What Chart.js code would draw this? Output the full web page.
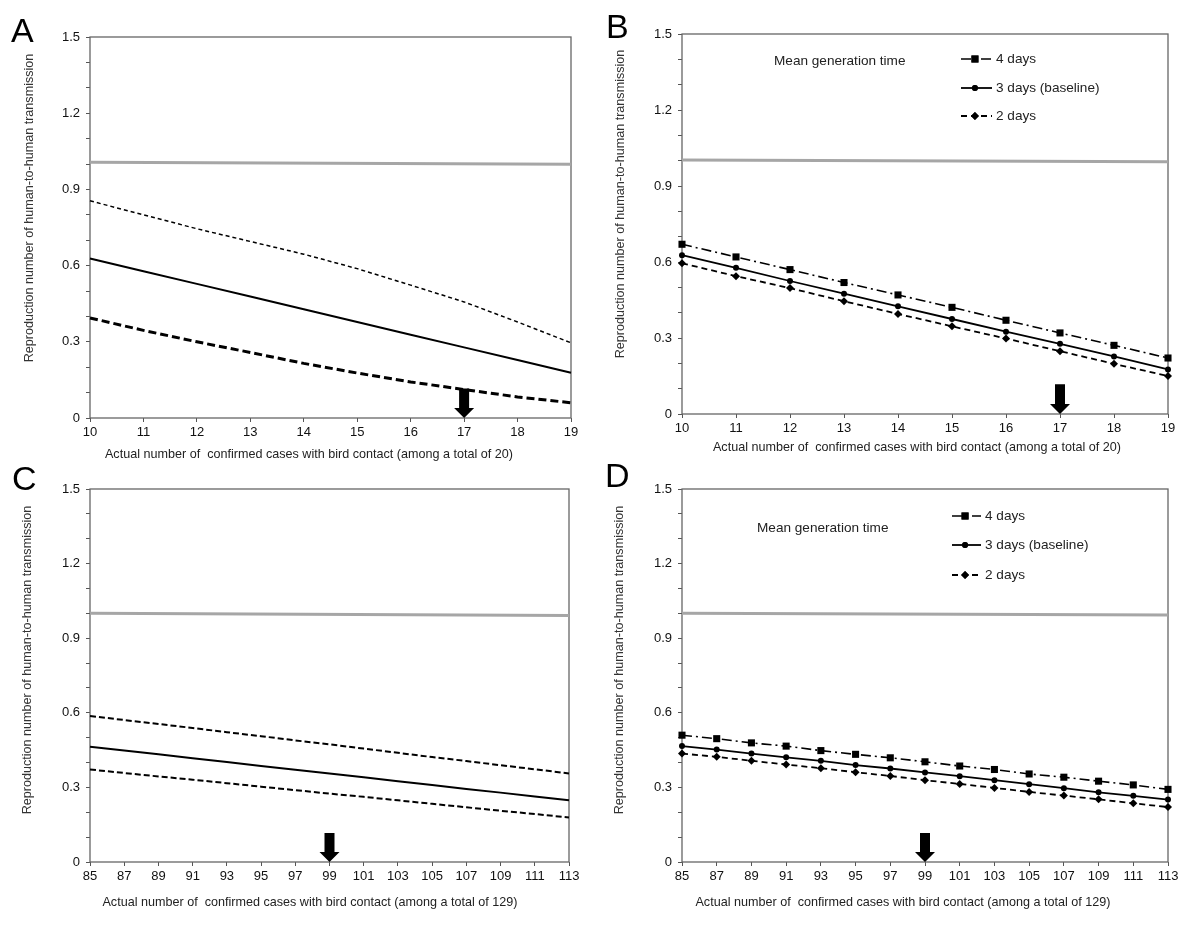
<!DOCTYPE html>
<html>
<head>
<meta charset="utf-8">
<script src="https://cdn.jsdelivr.net/npm/chart.js@4.4.1/dist/chart.umd.min.js"></script>
<style>
    body { margin: 0; background: #fff; }
    .panel { position: absolute; width: 600px; height: 463px; }
</style>
</head>
<body>
<div class="panel" style="left:0;top:0"><canvas id="chartA" width="600" height="463"></canvas></div>
<div class="panel" style="left:600px;top:0"><canvas id="chartB" width="600" height="463"></canvas></div>
<div class="panel" style="left:0;top:463px"><canvas id="chartC" width="600" height="463"></canvas></div>
<div class="panel" style="left:600px;top:463px"><canvas id="chartD" width="600" height="463"></canvas></div>
<script>
// x values (actual number of confirmed cases with bird contact)
var casesAB = [10, 11, 12, 13, 14, 15, 16, 17, 18, 19];
var casesCD = [85, 87, 89, 91, 93, 95, 97, 99, 101, 103, 105, 107, 109, 111, 113];

// A: estimate with upper / lower bounds
var aUpper = [0.855, 0.80, 0.745, 0.695, 0.645, 0.588, 0.523, 0.457, 0.378, 0.296];
var aMid   = [0.628, 0.578, 0.528, 0.478, 0.428, 0.378, 0.328, 0.278, 0.228, 0.178];
var aLower = [0.394, 0.345, 0.30, 0.258, 0.215, 0.177, 0.142, 0.112, 0.083, 0.06];

// B: mean generation time
var b4days = [0.670, 0.620, 0.570, 0.519, 0.470, 0.421, 0.370, 0.320, 0.271, 0.221];
var b3days = [0.627, 0.577, 0.525, 0.475, 0.425, 0.375, 0.325, 0.277, 0.227, 0.176];
var b2days = [0.595, 0.544, 0.497, 0.445, 0.395, 0.346, 0.298, 0.248, 0.198, 0.150];

// C: estimate with upper / lower bounds
var cUpper = [0.587, 0.571, 0.555, 0.539, 0.522, 0.506, 0.489, 0.473, 0.456, 0.439, 0.422, 0.406, 0.389, 0.373, 0.356];
var cMid   = [0.463, 0.448, 0.433, 0.417, 0.402, 0.386, 0.371, 0.356, 0.341, 0.325, 0.310, 0.294, 0.279, 0.263, 0.248];
var cLower = [0.372, 0.358, 0.344, 0.331, 0.317, 0.303, 0.289, 0.275, 0.262, 0.248, 0.234, 0.220, 0.206, 0.193, 0.179];

// D: mean generation time
var d4days = [0.510, 0.496, 0.479, 0.466, 0.448, 0.433, 0.419, 0.403, 0.386, 0.372, 0.354, 0.341, 0.325, 0.310, 0.292];
var d3days = [0.466, 0.452, 0.436, 0.421, 0.407, 0.390, 0.376, 0.360, 0.345, 0.329, 0.313, 0.297, 0.280, 0.266, 0.251];
var d2days = [0.436, 0.423, 0.407, 0.392, 0.377, 0.361, 0.346, 0.329, 0.314, 0.298, 0.282, 0.267, 0.252, 0.236, 0.221];

// grey reference line R = 1 (start, end)
var thresholdA = [1.007, 0.999];
var thresholdB = [1.003, 0.996];
var thresholdC = [1.000, 0.991];
var thresholdD = [1.000, 0.993];

// observed number marked by the arrow
var arrowX = [17, 17, 99, 99];
var arrowTop = [0.116, 0.117, 0.117, 0.117];

var legendLabels = ['4 days', '3 days (baseline)', '2 days'];
var yTitle = 'Reproduction number of human-to-human transmission';
var xTitleAB = 'Actual number of  confirmed cases with bird contact (among a total of 20)';
var xTitleCD = 'Actual number of  confirmed cases with bird contact (among a total of 129)';

var sans = '"Liberation Sans", Arial, sans-serif';

function pts(xs, ys) {
    return xs.map(function (x, i) { return { x: x, y: ys[i] }; });
}

function line(xs, ys, opt) {
    return {
        data: pts(xs, ys),
        borderColor: '#000',
        backgroundColor: '#000',
        borderWidth: opt.width || 2,
        borderDash: opt.dash || [],
        pointStyle: opt.point || 'circle',
        pointRadius: opt.radius || 0,
        pointBorderWidth: 0,
        tension: 0,
        clip: false,
        label: opt.label || ''
    };
}

var panelDecor = {
    id: 'panelDecor',
    beforeDatasetsDraw: function (chart) {
        var ctx = chart.ctx, a = chart.chartArea;
        ctx.save();
        ctx.strokeStyle = '#666';
        ctx.lineWidth = 1.3;
        ctx.strokeRect(a.left, a.top, a.right - a.left, a.bottom - a.top);
        ctx.restore();
    },
    afterDraw: function (chart, args, opts) {
        var ctx = chart.ctx;
        var xs = chart.scales.x, ys = chart.scales.y;
        ctx.save();

        // arrow
        var ax = xs.getPixelForValue(opts.arrowX);
        var top = ys.getPixelForValue(opts.arrowTop);
        var bot = ys.getPixelForValue(0);
        ctx.fillStyle = '#000';
        ctx.beginPath();
        ctx.moveTo(ax - 5, top);
        ctx.lineTo(ax + 5, top);
        ctx.lineTo(ax + 5, bot - 10);
        ctx.lineTo(ax + 10, bot - 10);
        ctx.lineTo(ax, bot);
        ctx.lineTo(ax - 10, bot - 10);
        ctx.lineTo(ax - 5, bot - 10);
        ctx.closePath();
        ctx.fill();

        // panel letter
        ctx.font = '34px ' + sans;
        ctx.textBaseline = 'alphabetic';
        ctx.textAlign = 'left';
        ctx.fillText(opts.letter, opts.letterX, opts.letterY);

        // axis titles
        ctx.textAlign = 'center';
        ctx.textBaseline = 'middle';
        ctx.fillStyle = '#222';
        ctx.font = '12.6px ' + sans;
        ctx.fillText(opts.xTitle, opts.xTitleX, opts.xTitleY);
        ctx.save();
        ctx.translate(opts.yTitleX, opts.yTitleY);
        ctx.rotate(-Math.PI / 2);
        ctx.fillStyle = '#333';
        ctx.fillText(yTitle, 0, 0);
        ctx.restore();

        // legend
        if (opts.legend) {
            var lg = opts.legend;
            ctx.textAlign = 'left';
            ctx.font = '13.6px ' + sans;
            ctx.fillStyle = '#222';
            ctx.fillText('Mean generation time', lg.titleX, lg.titleY);
            chart.data.datasets.forEach(function (ds, i) {
                if (!ds.label) return;
                var y = lg.rows[i];
                ctx.strokeStyle = '#000';
                ctx.lineWidth = ds.borderWidth;
                ctx.setLineDash(ds.borderDash);
                ctx.beginPath();
                ctx.moveTo(lg.x0, y);
                ctx.lineTo(lg.x1, y);
                ctx.stroke();
                ctx.setLineDash([]);
                Chart.helpers.drawPoint(ctx, {
                    pointStyle: ds.pointStyle,
                    radius: ds.pointRadius,
                    borderWidth: 0
                }, lg.x0 + (lg.x1 - lg.x0) * 0.45, y);
                ctx.fillStyle = '#000';
                ctx.fill();
                ctx.fillStyle = '#222';
                ctx.fillText(ds.label, lg.textX, y);
            });
        }
        ctx.restore();
    }
};

function makePanel(id, cfg) {
    var isAB = cfg.xs === casesAB;
    new Chart(document.getElementById(id), {
        type: 'line',
        data: { datasets: cfg.datasets },
        plugins: [panelDecor],
        options: {
            responsive: false,
            animation: false,
            devicePixelRatio: 1,
            layout: { padding: { top: cfg.top, right: cfg.right, left: 0, bottom: 0 } },
            plugins: {
                legend: { display: false },
                tooltip: { enabled: false },
                panelDecor: {
                    arrowX: cfg.arrowX,
                    arrowTop: cfg.arrowTop,
                    letter: cfg.letter,
                    letterX: cfg.letterX,
                    letterY: cfg.letterY,
                    xTitle: isAB ? xTitleAB : xTitleCD,
                    xTitleX: cfg.xTitleX,
                    xTitleY: cfg.xTitleY,
                    yTitleX: cfg.yTitleX,
                    yTitleY: cfg.yTitleY,
                    legend: cfg.legend
                }
            },
            scales: {
                x: {
                    type: 'linear',
                    min: cfg.xs[0],
                    max: cfg.xs[cfg.xs.length - 1],
                    afterFit: function (s) {
                        s.height = cfg.xH;
                        s.paddingLeft = 0; s.paddingRight = 0;
                    },
                    ticks: {
                        stepSize: isAB ? 1 : 2,
                        autoSkip: false,
                        maxRotation: 0,
                        padding: 3,
                        color: '#111',
                        font: { family: sans, size: 13 }
                    },
                    grid: { drawOnChartArea: false, drawTicks: true, tickLength: 4, color: '#555' },
                    border: { display: false }
                },
                y: {
                    type: 'linear',
                    min: 0,
                    max: 1.5,
                    afterFit: function (s) {
                        s.width = cfg.yW;
                        s.paddingTop = 0; s.paddingBottom = 0;
                    },
                    ticks: {
                        stepSize: 0.1,
                        autoSkip: false,
                        padding: 6,
                        color: '#111',
                        font: { family: sans, size: 13 },
                        callback: function (v) {
                            var r = Math.round(v * 10);
                            if (r % 3 !== 0) return '';
                            return r === 0 ? '0' : (r / 10).toFixed(1);
                        }
                    },
                    grid: { drawOnChartArea: false, drawTicks: true, tickLength: 4, color: '#555' },
                    border: { display: false }
                }
            }
        }
    });
}

function greyLine(xs, t) {
    return {
        data: [{ x: xs[0], y: t[0] }, { x: xs[xs.length - 1], y: t[1] }],
        borderColor: '#a6a6a6',
        borderWidth: 3,
        pointRadius: 0,
        label: ''
    };
}

makePanel('chartA', {
    xs: casesAB,
    top: 37, right: 29, yW: 90, xH: 45,
    yTitleX: 30, yTitleY: 208, xTitleX: 309, xTitleY: 455,
    letter: 'A', letterX: 11, letterY: 42,
    arrowX: arrowX[0], arrowTop: arrowTop[0],
    datasets: [
        greyLine(casesAB, thresholdA),
        line(casesAB, aUpper, { width: 1.5, dash: [4, 3] }),
        line(casesAB, aMid, { width: 2 }),
        line(casesAB, aLower, { width: 3, dash: [8, 4] })
    ]
});

makePanel('chartB', {
    xs: casesAB,
    top: 34, right: 32, yW: 82, xH: 49,
    yTitleX: 21, yTitleY: 204, xTitleX: 317, xTitleY: 448,
    letter: 'B', letterX: 6, letterY: 38,
    arrowX: arrowX[1], arrowTop: arrowTop[1],
    legend: { titleX: 174, titleY: 61, x0: 361, x1: 392, textX: 396, rows: [0, 59, 88, 116] },
    datasets: [
        greyLine(casesAB, thresholdB),
        line(casesAB, b4days, { width: 1.6, dash: [10, 4, 2, 4], point: 'rect', radius: 5, label: legendLabels[0] }),
        line(casesAB, b3days, { width: 1.8, point: 'circle', radius: 3, label: legendLabels[1] }),
        line(casesAB, b2days, { width: 1.8, dash: [6, 4], point: 'rectRot', radius: 4, label: legendLabels[2] })
    ]
});

makePanel('chartC', {
    xs: casesCD,
    top: 26, right: 31, yW: 90, xH: 64,
    yTitleX: 28, yTitleY: 197, xTitleX: 310, xTitleY: 440,
    letter: 'C', letterX: 12, letterY: 27,
    arrowX: arrowX[2], arrowTop: arrowTop[2],
    datasets: [
        greyLine(casesCD, thresholdC),
        line(casesCD, cUpper, { width: 2, dash: [6, 3] }),
        line(casesCD, cMid, { width: 2 }),
        line(casesCD, cLower, { width: 2, dash: [6, 3] })
    ]
});

makePanel('chartD', {
    xs: casesCD,
    top: 26, right: 32, yW: 82, xH: 64,
    yTitleX: 20, yTitleY: 197, xTitleX: 303, xTitleY: 440,
    letter: 'D', letterX: 5, letterY: 24,
    arrowX: arrowX[3], arrowTop: arrowTop[3],
    legend: { titleX: 157, titleY: 65, x0: 352, x1: 381, textX: 385, rows: [0, 53, 82, 112] },
    datasets: [
        greyLine(casesCD, thresholdD),
        line(casesCD, d4days, { width: 1.6, dash: [10, 4, 2, 4], point: 'rect', radius: 5, label: legendLabels[0] }),
        line(casesCD, d3days, { width: 1.8, point: 'circle', radius: 3, label: legendLabels[1] }),
        line(casesCD, d2days, { width: 1.8, dash: [6, 4], point: 'rectRot', radius: 4, label: legendLabels[2] })
    ]
});
</script>
</body>
</html>
